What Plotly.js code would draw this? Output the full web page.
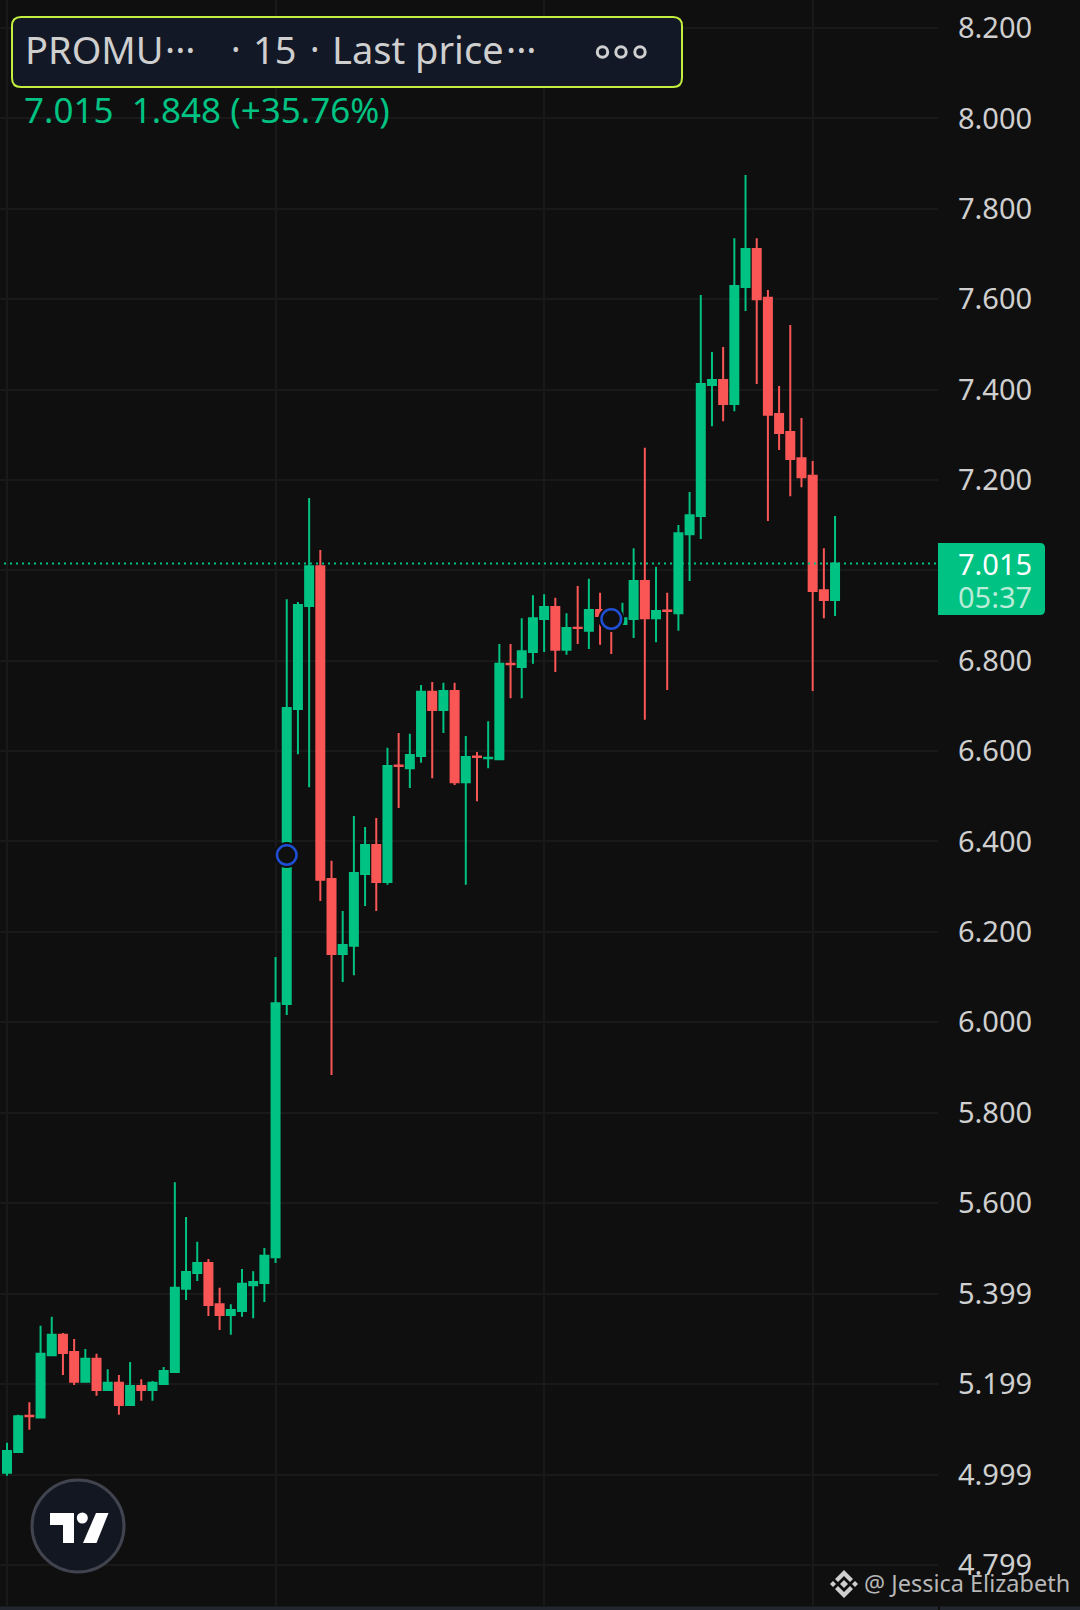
<!DOCTYPE html>
<html>
<head>
<meta charset="utf-8">
<script src="https://cdn.plot.ly/plotly-3.0.1.min.js"></script>
<style>html,body{margin:0;padding:0;background:#0f0f0f;overflow:hidden}#chart{width:1080px;height:1610px}</style>
</head>
<body>
<div id="chart"></div>
<script>
// ---- data ----
var openPrices = [5.003,5.049,5.129,5.125,5.263,5.308,5.270,5.204,5.255,5.186,5.202,5.153,5.195,5.186,5.199,5.226,5.410,5.445,5.467,5.376,5.352,5.361,5.418,5.423,5.480,
  6.040,6.693,6.921,7.009,6.317,6.151,6.169,6.328,6.392,6.310,6.568,6.562,6.589,6.731,6.691,6.733,6.531,6.588,6.584,6.582,6.793,6.786,6.819,6.892,6.919,
  6.824,6.873,6.866,6.912,6.899,6.881,6.892,6.976,6.894,6.911,6.905,7.080,7.120,7.410,7.421,7.368,7.627,7.711,7.603,7.346,7.306,7.248,7.209,6.956,6.934];
var highPrices = [5.069,5.131,5.159,5.328,5.348,5.312,5.299,5.277,5.266,5.232,5.219,5.248,5.210,5.206,5.237,5.646,5.569,5.514,5.476,5.412,5.376,5.454,5.449,5.500,6.144,
  6.936,6.930,7.160,7.045,6.357,6.246,6.456,6.432,6.452,6.607,6.640,6.638,6.746,6.753,6.751,6.751,6.633,6.598,6.666,6.837,6.837,6.894,6.945,6.947,6.939,
  6.905,6.965,6.981,6.950,6.908,6.928,7.049,7.271,7.007,6.950,7.100,7.173,7.609,7.483,7.494,7.735,7.875,7.735,7.620,7.408,7.543,7.337,7.242,7.049,7.120];
var lowPrices = [4.996,5.049,5.098,5.125,5.263,5.219,5.197,5.204,5.173,5.186,5.131,5.151,5.162,5.162,5.199,5.226,5.385,5.427,5.350,5.319,5.308,5.348,5.345,5.381,5.467,
  6.016,6.593,6.520,6.268,5.883,6.089,6.104,6.257,6.246,6.304,6.474,6.518,6.574,6.540,6.640,6.525,6.304,6.489,6.562,6.582,6.717,6.717,6.793,6.819,6.775,
  6.813,6.837,6.826,6.835,6.815,6.881,6.850,6.669,6.841,6.735,6.866,6.976,7.069,7.319,7.330,7.352,7.574,7.412,7.109,7.266,7.164,7.184,6.733,6.894,6.899];
var closePrices = [5.051,5.128,5.128,5.266,5.308,5.268,5.204,5.255,5.186,5.202,5.153,5.195,5.186,5.202,5.228,5.412,5.447,5.467,5.374,5.352,5.363,5.421,5.425,5.483,6.042,
  6.695,6.923,7.009,6.315,6.151,6.171,6.330,6.392,6.310,6.567,6.567,6.591,6.731,6.691,6.733,6.531,6.587,6.587,6.585,6.793,6.792,6.821,6.894,6.919,6.824,
  6.872,6.872,6.912,6.899,6.892,6.894,6.976,6.894,6.910,6.910,7.082,7.122,7.412,7.421,7.368,7.629,7.711,7.600,7.344,7.304,7.246,7.206,6.954,6.934,7.015];
var barIndex = openPrices.map(function(_, i){ return i; });
var tickValues = [8.2,8.0,7.8,7.6,7.4,7.2,7.0,6.8,6.6,6.4,6.2,6.0,5.8,5.6,5.399,5.199,4.999,4.799];
var tickLabels = ["8.200","8.000","7.800","7.600","7.400","7.200","","6.800","6.600","6.400","6.200","6.000","5.800","5.600","5.399","5.199","4.999","4.799"];
var timeGridBars = [0,24,48,72];
var markerBars = [25,54];
var markerPrices = [6.370,6.892];
var lastPrice = 7.015;

// ---- colours ----
var BG="#0f0f0f", GRID="#191919", UP="#00c282", DOWN="#fa5656", TXT="#cfcfcf";

// ---- page chrome placed in pixels ----
var PW=938, PH=1606;
function X(p){return p/PW;}
function Y(p){return (PH-p)/PH;}
function poly(pts){return "M"+pts.map(function(q){return X(q[0])+" "+Y(q[1]);}).join("L")+"Z";}
function rrect(x0,y0,x1,y1,rl,rr){
  function P(a,b){return X(a)+" "+Y(b);}
  return "M"+P(x0+rl,y0)+"L"+P(x1-rr,y0)+"Q"+P(x1,y0)+" "+P(x1,y0+rr)+"L"+P(x1,y1-rr)+"Q"+P(x1,y1)+" "+P(x1-rr,y1)+
         "L"+P(x0+rl,y1)+"Q"+P(x0,y1)+" "+P(x0,y1-rl)+"L"+P(x0,y0+rl)+"Q"+P(x0,y0)+" "+P(x0+rl,y0)+"Z";
}
function path(d,fill,lc,lw){return {type:"path",xref:"paper",yref:"paper",path:d,fillcolor:fill,line:{color:lc||fill,width:lw||0},layer:"above"};}
function circ(cx,cy,r,fill,lc,lw){return {type:"circle",xref:"paper",yref:"paper",x0:X(cx-r),x1:X(cx+r),y0:Y(cy+r),y1:Y(cy-r),fillcolor:fill,line:{color:lc||fill,width:lw||0},layer:"above"};}
function note(text,x,y,size,color,anchor){return {xref:"paper",yref:"paper",x:X(x),y:Y(y),text:text,showarrow:false,xanchor:anchor||"left",yanchor:"middle",borderpad:0,font:{family:"Noto Sans",size:size,color:color}};}

var shapes=[
  {type:"line",xref:"paper",yref:"y",x0:X(4),x1:1,y0:lastPrice,y1:lastPrice,line:{color:UP,width:2,dash:"2px,4px"},layer:"above"},
  path(rrect(938,543,1045,615,0,5),UP),
  path(rrect(12,17,682,87,9,9),"#121826","#c3ee3f",2),
  circ(602.5,52,5.2,"rgba(0,0,0,0)",TXT,3),circ(621,52,5.2,"rgba(0,0,0,0)",TXT,3),circ(640,52,5.2,"rgba(0,0,0,0)",TXT,3),
  circ(78,1526,46,"#121722","#41444e",3),
  path(poly([[50,1513],[74,1513],[74,1543],[63,1543],[63,1525],[50,1525]]),"#ffffff"),
  circ(82.3,1518,5.5,"#ffffff"),
  path(poly([[96,1513],[108.5,1513],[96.5,1543],[83,1543]]),"#ffffff"),
  path(poly([[833,1581],[836,1584],[833,1587],[830,1584]]),TXT),
  path(poly([[855,1581],[858,1584],[855,1587],[852,1584]]),TXT),
  path(poly([[844,1580],[848,1584],[844,1588],[840,1584]]),TXT),
  path(poly([[835,1579],[844,1570],[853,1579],[850,1582],[844,1576],[838,1582]]),TXT),
  path(poly([[835,1589],[844,1598],[853,1589],[850,1586],[844,1592],[838,1586]]),TXT),
  {type:"rect",xref:"paper",yref:"paper",x0:0,x1:1,y0:Y(1610),y1:Y(1606.6),fillcolor:"#22262f",line:{width:0},layer:"above"},
  {type:"rect",xref:"paper",yref:"paper",x0:X(940),x1:X(1080),y0:Y(1610),y1:Y(1606.6),fillcolor:"#22262f",line:{width:0},layer:"above"}
];

var annotations=[
  note("PROMU",24,49,38,TXT),
  note("···",164,49,38,TXT),
  note("•",231,49,20,TXT),
  note("15",252,49,38,TXT),
  note("•",310,49,20,TXT),
  note("Last price",331,49,38,TXT),
  note("···",505,49,38,TXT),
  note("7.015  1.848 (+35.76%)",23,109,35,UP),
  note("7.015",957,564,29,"#ffffff"),
  note("05:37",957,596,29,"#b8ecd8"),
  note("@ Jessica Elizabeth",863,1583,23.5,"rgba(215,215,215,0.85)")
];

var traces=[
  {type:"candlestick",x:barIndex,open:openPrices,high:highPrices,low:lowPrices,close:closePrices,
   whiskerwidth:0,
   increasing:{line:{color:UP,width:2},fillcolor:UP},
   decreasing:{line:{color:DOWN,width:2},fillcolor:DOWN},
   hoverinfo:"skip",showlegend:false},
  {type:"scatter",mode:"markers",x:markerBars,y:markerPrices,hoverinfo:"skip",showlegend:false,
   marker:{symbol:"circle",size:26,color:BG,line:{width:0}}},
  {type:"scatter",mode:"markers",x:markerBars,y:markerPrices,hoverinfo:"skip",showlegend:false,
   marker:{symbol:"circle",size:19.5,color:BG,line:{width:2.5,color:"#1f4fd4"}}}
];

var layout={
  width:1080,height:1610,
  margin:{l:0,r:142,t:0,b:4,pad:0},
  paper_bgcolor:BG,plot_bgcolor:BG,
  showlegend:false,boxgap:0.285,boxgroupgap:0,
  xaxis:{type:"linear",range:[-0.626,83.2],tickmode:"array",tickvals:timeGridBars,showticklabels:false,ticks:"",
         showgrid:true,gridcolor:GRID,gridwidth:2,zeroline:false,showline:false,rangeslider:{visible:false},fixedrange:true},
  yaxis:{type:"linear",side:"right",range:[4.7080,8.2620],tickmode:"array",tickvals:tickValues,ticktext:tickLabels,ticks:"",
         ticklabelstandoff:19,tickfont:{family:"Noto Sans",size:29,color:TXT},
         showgrid:true,gridcolor:GRID,gridwidth:2,zeroline:false,showline:false,fixedrange:true},
  shapes:shapes,annotations:annotations
};
Plotly.newPlot("chart",traces,layout,{displayModeBar:false,staticPlot:true});
</script>
</body>
</html>
